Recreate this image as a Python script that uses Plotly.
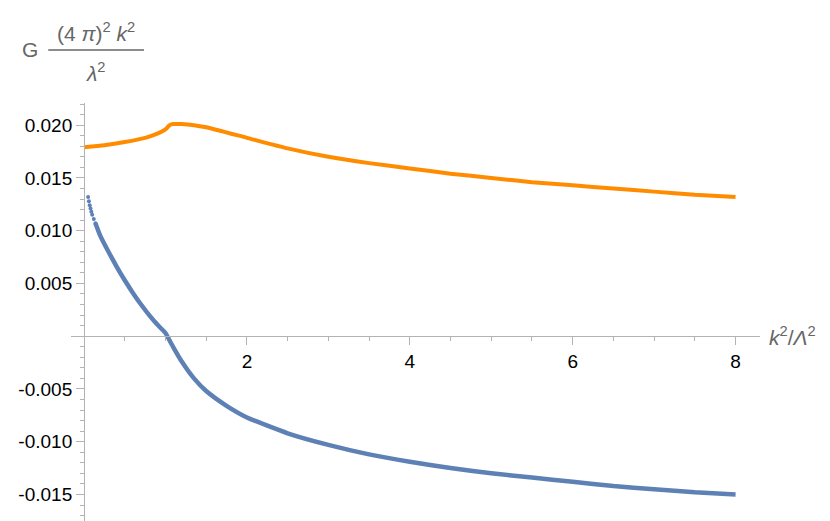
import plotly.graph_objects as go

# values
orange_x = [0.0, 0.25, 0.5, 0.75, 0.9, 1.0, 1.05, 1.1, 1.2, 1.35, 1.5, 2.0, 2.5, 3.0, 3.5, 4.0, 4.5, 5.0, 5.5, 6.0, 6.5, 7.0, 7.5, 8.0]
orange_y = [0.0179, 0.0181, 0.0184, 0.0188, 0.0192, 0.0196, 0.0200, 0.0201, 0.0201, 0.0200, 0.0198, 0.0188, 0.0178, 0.0170, 0.0164, 0.0159, 0.0154, 0.0150, 0.0146, 0.0143, 0.0140, 0.0137, 0.0134, 0.0132]

blue_dot_x = [0.05, 0.06, 0.07, 0.08, 0.09, 0.10, 0.12, 0.14]
blue_dot_y = [0.0132, 0.0128, 0.0124, 0.0121, 0.0118, 0.0115, 0.0111, 0.0107]
blue_x = [0.14, 0.2, 0.3, 0.4, 0.5, 0.6, 0.7, 0.8, 0.9, 1.0, 1.05, 1.1, 1.2, 1.35, 1.5, 1.75, 2.0, 2.5, 3.0, 3.5, 4.0, 4.5, 5.0, 5.5, 6.0, 6.5, 7.0, 7.5, 8.0]
blue_y = [0.0107, 0.0095, 0.0080, 0.0066, 0.0053, 0.0041, 0.0030, 0.0020, 0.0011, 0.0003, -0.0004, -0.0011, -0.0024, -0.0040, -0.0052, -0.0066, -0.0077, -0.0092, -0.0103, -0.0112, -0.0119, -0.0125, -0.0130, -0.0134, -0.0138, -0.0142, -0.0145, -0.0148, -0.0150]

x_ticks = [2, 4, 6, 8]
y_ticks = [-0.015, -0.010, -0.005, 0.005, 0.010, 0.015, 0.020]
y_tick_text = ["-0.015", "-0.010", "-0.005", "0.005", "0.010", "0.015", "0.020"]

orange = "#FF8C00"
blue = "#5E81B5"
axis_gray = "#b3b3b3"
xr = [-0.16, 8.3]
yr = [-0.0178, 0.0221]

fig = go.Figure()
fig.add_trace(go.Scatter(x=orange_x, y=orange_y, mode="lines", line=dict(color=orange, width=4, shape="spline", smoothing=0.5)))
fig.add_trace(go.Scatter(x=blue_x, y=blue_y, mode="lines", line=dict(color=blue, width=4.5, shape="spline", smoothing=0.5)))
fig.add_trace(go.Scatter(x=blue_dot_x, y=blue_dot_y, mode="markers", marker=dict(color=blue, size=4)))

fig.update_layout(
    width=830, height=521, showlegend=False,
    plot_bgcolor="white", paper_bgcolor="white",
    margin=dict(l=63, r=78, t=95, b=5),
    font=dict(family="Liberation Sans", size=19, color="black"),
    xaxis=dict(range=xr, showgrid=False, zeroline=False, showline=True, linecolor=axis_gray,
               anchor="free", position=(0 - yr[0]) / (yr[1] - yr[0]),
               tickvals=x_ticks, ticks="outside", ticklen=8, tickcolor=axis_gray,
               tickfont=dict(size=19),
               minor=dict(dtick=0.5, ticks="outside", ticklen=4, tickcolor=axis_gray)),
    yaxis=dict(range=yr, showgrid=False, zeroline=False, showline=True, linecolor=axis_gray,
               anchor="free", position=(0 - xr[0]) / (xr[1] - xr[0]),
               tickvals=y_ticks, ticktext=y_tick_text, ticks="outside", ticklen=8, tickcolor=axis_gray,
               tickfont=dict(size=19),
               minor=dict(dtick=0.001, ticks="outside", ticklen=4, tickcolor=axis_gray)),
)

gray = "#666666"
fig.add_annotation(xref="paper", yref="paper", x=-0.06, y=1.126, xanchor="center", yanchor="middle", showarrow=False,
                   text="G", font=dict(size=21, color=gray))
fig.add_annotation(xref="paper", yref="paper", x=0.036, y=1.168, xanchor="center", yanchor="middle", showarrow=False,
                   text="(4 <i>π</i>)<sup>2</sup> <i>k</i><sup>2</sup>", font=dict(size=21, color=gray))
fig.add_annotation(xref="paper", yref="paper", x=0.036, y=1.074, xanchor="center", yanchor="middle", showarrow=False,
                   text="<i>λ</i><sup>2</sup>", font=dict(size=21, color=gray))
fig.add_shape(type="line", xref="paper", yref="paper", x0=-0.033, x1=0.106, y0=1.126, y1=1.126, line=dict(color=gray, width=1.5))
fig.add_annotation(xref="paper", yref="y", x=1.01, y=0, xanchor="left", yanchor="middle", showarrow=False,
                   text="<i>k</i><sup>2</sup>/<i>Λ</i><sup>2</sup>", font=dict(size=21, color=gray))

fig.write_html("out.html")
